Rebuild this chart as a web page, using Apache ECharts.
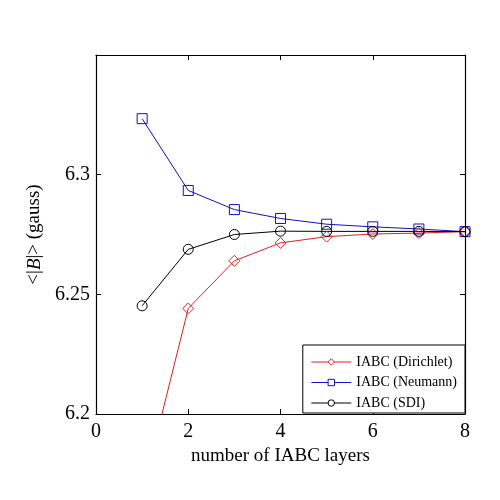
<!DOCTYPE html>
<html>
<head>
    <meta charset="utf-8" />
    <title>IABC layers</title>
    <script src="https://cdn.jsdelivr.net/npm/echarts@6/dist/echarts.min.js"></script>
    <style type="text/css">
        body { margin: 0; background: #fff; }
        #chart { width: 500px; height: 500px; }
    </style>
</head>
<body>
    <div id="chart"></div>
    <script>
        // 数据
        var layers = [1, 2, 3, 4, 5, 6, 7, 8];
        var dirichlet = [6.1667, 6.2441, 6.2640, 6.2715, 6.2741, 6.2752, 6.2756, 6.2762];
        var neumann = [6.3234, 6.2934, 6.2854, 6.2817, 6.2793, 6.2782, 6.2773, 6.2762];
        var sdi = [6.2452, 6.2688, 6.2750, 6.2764, 6.2763, 6.2763, 6.2763, 6.2762];
        var xTicks = [0, 2, 4, 6, 8];
        var yTicks = [6.2, 6.25, 6.3];

        var font = 'Liberation Serif';

        function pairs(values) {
            return layers.map(function (x, i) { return [x, values[i]]; });
        }

        function makeSeries(name, values, symbol, size, color) {
            return {
                name: name,
                type: 'line',
                data: pairs(values),
                symbol: symbol,
                symbolSize: size,
                clip: true,
                lineStyle: { color: color, width: 1 },
                itemStyle: { color: 'rgba(0,0,0,0)', borderColor: color, borderWidth: 1 }
            };
        }

        var chart = echarts.init(document.getElementById('chart'));

        var boxAxis = {
            axisLine: { show: true, onZero: false, lineStyle: { color: '#000', width: 1.2 } },
            axisTick: { show: true, inside: true, length: 5, lineStyle: { color: '#000' } },
            splitLine: { show: false }
        };

        var option = {
            animation: false,
            backgroundColor: '#fff',
            grid: { left: 96, right: 35, top: 55, bottom: 86 },
            legend: {
                orient: 'vertical',
                right: 35,
                top: 345,
                itemWidth: 40,
                itemHeight: 8,
                itemGap: 6.5,
                padding: [10, 8, 3, 8],
                borderColor: '#000',
                borderWidth: 1,
                backgroundColor: '#fff',
                lineStyle: { width: 1 },
                itemStyle: { color: '#fff', borderWidth: 1 },
                textStyle: { fontFamily: font, fontSize: 14, color: '#000' },
                data: ['IABC (Dirichlet)', 'IABC (Neumann)', 'IABC (SDI)']
            },
            xAxis: [
                Object.assign({
                    type: 'value',
                    min: 0,
                    max: 8,
                    interval: 2,
                    name: 'number of IABC layers',
                    nameLocation: 'middle',
                    nameGap: 31,
                    nameTextStyle: { fontFamily: font, fontSize: 19, color: '#000' },
                    axisLabel: { fontFamily: font, fontSize: 20, color: '#000', margin: 8 }
                }, boxAxis),
                Object.assign({
                    type: 'value',
                    position: 'top',
                    min: 0,
                    max: 8,
                    interval: 2,
                    axisLabel: { show: false }
                }, boxAxis)
            ],
            yAxis: [
                Object.assign({
                    type: 'value',
                    min: 6.2,
                    max: 6.35,
                    interval: 0.05,
                    name: '<|{b|B}|> (gauss)',
                    nameLocation: 'middle',
                    nameGap: 52,
                    nameTextStyle: {
                        fontFamily: font, fontSize: 19, color: '#000',
                        rich: { b: { fontFamily: font, fontSize: 19, fontStyle: 'italic', color: '#000' } }
                    },
                    axisLabel: {
                        fontFamily: font, fontSize: 20, color: '#000', margin: 6,
                        formatter: function (v) {
                            var hit = yTicks.some(function (t) { return Math.abs(t - v) < 1e-6; });
                            return hit ? String(+v.toFixed(2)) : '';
                        }
                    }
                }, boxAxis),
                Object.assign({
                    type: 'value',
                    position: 'right',
                    min: 6.2,
                    max: 6.35,
                    interval: 0.05,
                    axisLabel: { show: false }
                }, boxAxis)
            ],
            series: [
                makeSeries('IABC (Dirichlet)', dirichlet, 'diamond', 11, '#e02020'),
                makeSeries('IABC (Neumann)', neumann, 'rect', 10, '#1010c0'),
                makeSeries('IABC (SDI)', sdi, 'circle', 10, '#000')
            ]
        };

        chart.setOption(option);
    </script>
</body>
</html>
